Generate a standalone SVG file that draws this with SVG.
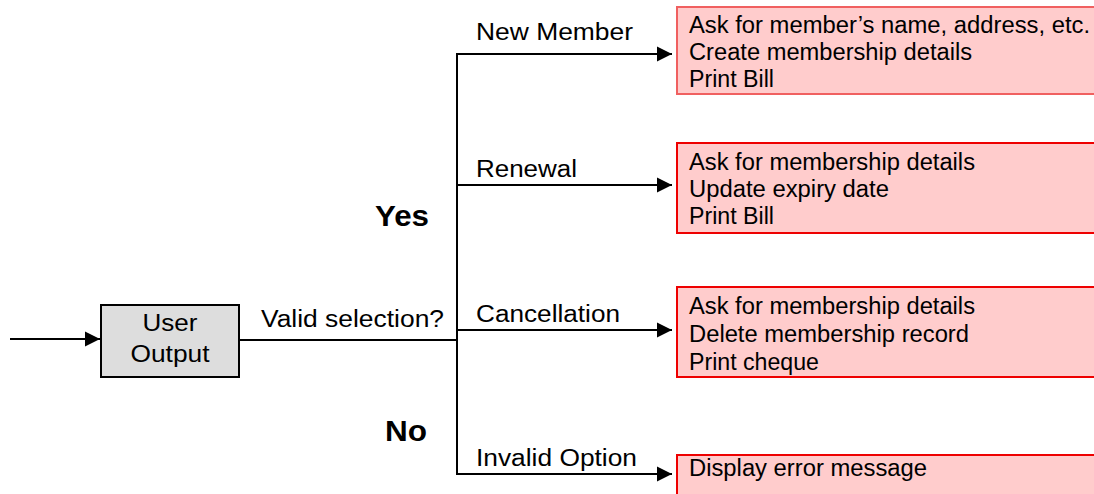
<svg xmlns="http://www.w3.org/2000/svg" width="1094" height="494" viewBox="0 0 1094 494">
<style>
.t{font-family:"Liberation Sans",Arial,sans-serif;font-size:23.5px;fill:#000}
.b{font-family:"Liberation Sans",Arial,sans-serif;font-size:30px;font-weight:bold;fill:#000}
.ln{stroke:#000;stroke-width:2;fill:none}
.box{fill:#ffcccc;stroke:#ee0000;stroke-width:2}
.grey{fill:#dddddd;stroke:#000;stroke-width:2}
</style>
<defs>
<marker id="ah" markerUnits="userSpaceOnUse" markerWidth="16" markerHeight="16" refX="15" refY="8" orient="auto">
<path d="M0,0.5 L15,8 L0,15.5 Z" fill="#000"/>
</marker>
</defs>
<g id="connectors">
<line class="ln" x1="10" y1="339" x2="100" y2="339" marker-end="url(#ah)"/>
<line class="ln" x1="239" y1="340" x2="457" y2="340"/>
<line class="ln" x1="457" y1="54" x2="457" y2="474"/>
<line class="ln" x1="456" y1="54" x2="672" y2="54" marker-end="url(#ah)"/>
<line class="ln" x1="456" y1="185" x2="672" y2="185" marker-end="url(#ah)"/>
<line class="ln" x1="456" y1="330" x2="672" y2="330" marker-end="url(#ah)"/>
<line class="ln" x1="456" y1="474" x2="672" y2="474" marker-end="url(#ah)"/>
<text class="t" x="476" y="40" textLength="157" lengthAdjust="spacingAndGlyphs">New Member</text>
<text class="t" x="476" y="177" textLength="101" lengthAdjust="spacingAndGlyphs">Renewal</text>
<text class="t" x="476" y="322" textLength="144" lengthAdjust="spacingAndGlyphs">Cancellation</text>
<text class="t" x="476" y="466" textLength="161" lengthAdjust="spacingAndGlyphs">Invalid Option</text>
<text class="t" x="261" y="327" textLength="183" lengthAdjust="spacingAndGlyphs">Valid selection?</text>
<text class="b" x="375" y="226" textLength="54" lengthAdjust="spacingAndGlyphs">Yes</text>
<text class="b" x="385" y="441" textLength="42" lengthAdjust="spacingAndGlyphs">No</text>
</g>
<g id="user-output">
<rect class="grey" x="101" y="305" width="138" height="72"/>
<text class="t" x="170" y="331" text-anchor="middle" textLength="55" lengthAdjust="spacingAndGlyphs">User</text>
<text class="t" x="170" y="362" text-anchor="middle" textLength="79" lengthAdjust="spacingAndGlyphs">Output</text>
</g>
<g id="new-member">
<rect class="box" x="677" y="7" width="430" height="87" style="stroke:#f06060"/>
<text class="t" x="689" y="33" textLength="401" lengthAdjust="spacingAndGlyphs">Ask for member’s name, address, etc.</text>
<text class="t" x="689" y="60" textLength="283" lengthAdjust="spacingAndGlyphs">Create membership details</text>
<text class="t" x="689" y="87" textLength="85" lengthAdjust="spacingAndGlyphs">Print Bill</text>
</g>
<g id="renewal">
<rect class="box" x="677" y="143" width="430" height="90"/>
<text class="t" x="689" y="170" textLength="286" lengthAdjust="spacingAndGlyphs">Ask for membership details</text>
<text class="t" x="689" y="197" textLength="200" lengthAdjust="spacingAndGlyphs">Update expiry date</text>
<text class="t" x="689" y="224" textLength="85" lengthAdjust="spacingAndGlyphs">Print Bill</text>
</g>
<g id="cancellation">
<rect class="box" x="677" y="287" width="430" height="90"/>
<text class="t" x="689" y="314" textLength="286" lengthAdjust="spacingAndGlyphs">Ask for membership details</text>
<text class="t" x="689" y="342" textLength="280" lengthAdjust="spacingAndGlyphs">Delete membership record</text>
<text class="t" x="689" y="370" textLength="130" lengthAdjust="spacingAndGlyphs">Print cheque</text>
</g>
<g id="invalid">
<rect class="box" x="677" y="455" width="430" height="60"/>
<text class="t" x="689" y="476" textLength="238" lengthAdjust="spacingAndGlyphs">Display error message</text>
</g>
</svg>
